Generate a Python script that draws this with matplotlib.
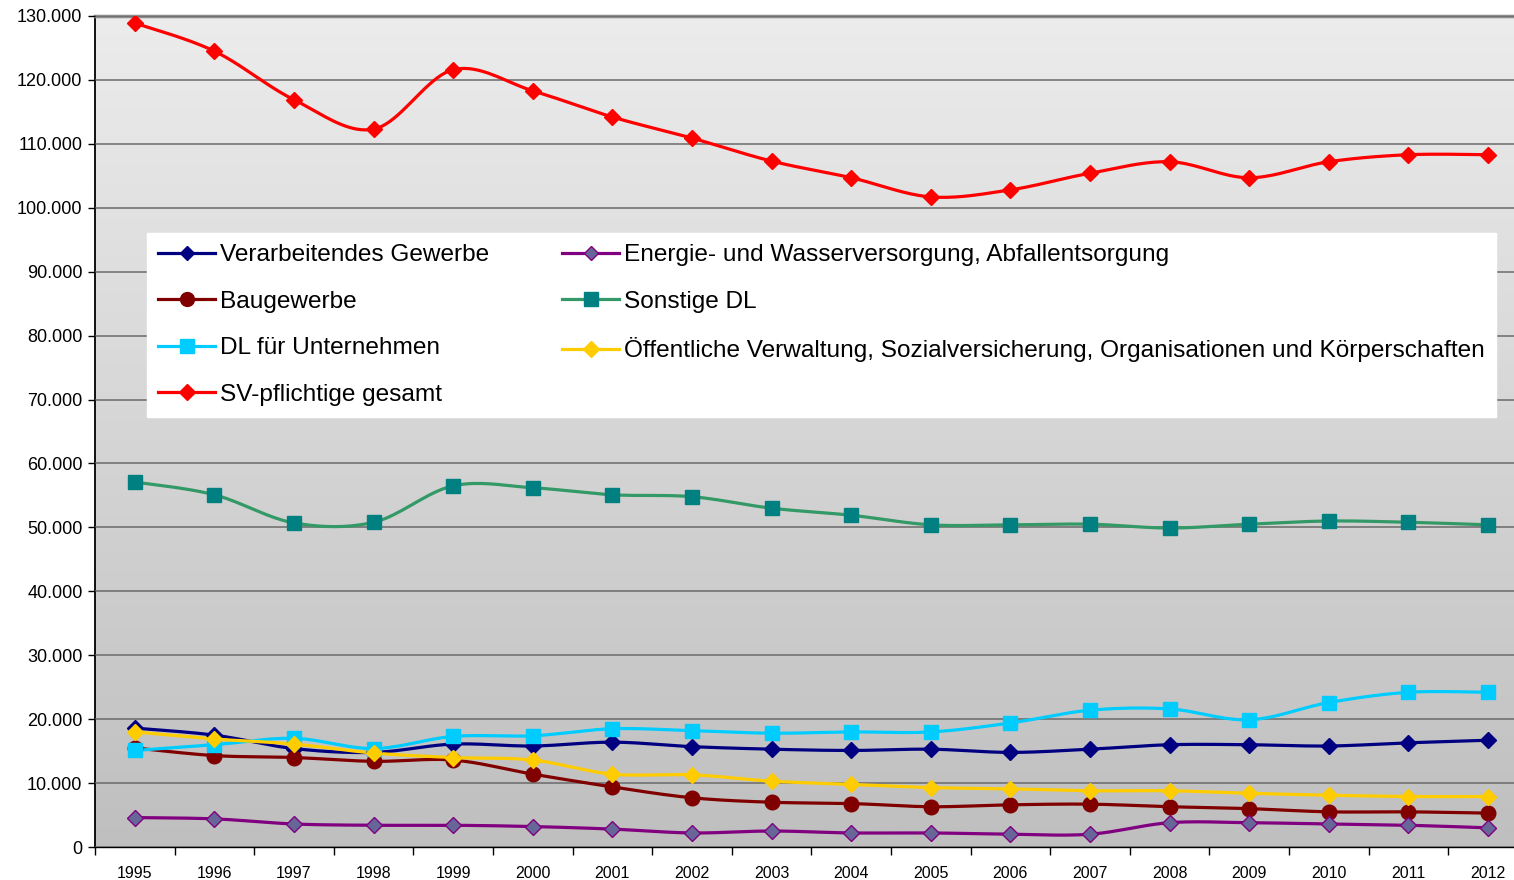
import numpy as np
import matplotlib
matplotlib.use("Agg")
import matplotlib.pyplot as plt
from matplotlib.ticker import FuncFormatter, FixedLocator
from matplotlib.colors import LinearSegmentedColormap

plt.rcParams['font.family'] = ['Liberation Sans', 'DejaVu Sans']

years = [str(y) for y in range(1995, 2013)]

verarbeitendes = [18.6, 17.5, 15.4, 14.8, 16.1, 15.8, 16.4, 15.7, 15.3, 15.1, 15.3, 14.8, 15.3, 16.0, 16.0, 15.8, 16.3, 16.7]
energie = [4.6, 4.4, 3.6, 3.4, 3.4, 3.2, 2.8, 2.2, 2.5, 2.2, 2.2, 2.0, 2.0, 3.8, 3.8, 3.6, 3.4, 3.0]
baugewerbe = [15.5, 14.3, 14.0, 13.4, 13.6, 11.4, 9.4, 7.7, 7.0, 6.8, 6.3, 6.6, 6.7, 6.3, 6.0, 5.5, 5.5, 5.3]
sonstige = [57.1, 55.1, 50.7, 50.8, 56.5, 56.2, 55.1, 54.8, 53.0, 51.9, 50.4, 50.4, 50.5, 49.9, 50.5, 51.0, 50.8, 50.4]
dl_unternehmen = [15.1, 16.0, 17.0, 15.4, 17.3, 17.4, 18.5, 18.2, 17.8, 18.0, 18.0, 19.4, 21.4, 21.6, 19.9, 22.6, 24.2, 24.2]
oeffentliche = [18.0, 16.9, 16.1, 14.7, 14.0, 13.6, 11.4, 11.3, 10.3, 9.8, 9.3, 9.1, 8.8, 8.8, 8.4, 8.1, 7.9, 7.9]
sv_gesamt = [128.9, 124.5, 116.9, 112.3, 121.6, 118.3, 114.2, 110.9, 107.3, 104.7, 101.7, 102.8, 105.4, 107.2, 104.7, 107.2, 108.3, 108.3]

labels = ["Verarbeitendes Gewerbe", "Baugewerbe", "DL für Unternehmen", "SV-pflichtige gesamt",
          "Energie- und Wasserversorgung, Abfallentsorgung", "Sonstige DL",
          "Öffentliche Verwaltung, Sozialversicherung, Organisationen und Körperschaften"]

# (values, line colour, marker, face, edge, markersize)
series = [
    (verarbeitendes, "#000080", "D", "#000080", "#000080", 8),
    (baugewerbe, "#800000", "o", "#800000", "#800000", 10.5),
    (dl_unternehmen, "#00CCFF", "s", "#00CCFF", "#00CCFF", 10),
    (sv_gesamt, "#FF0000", "D", "#FF0000", "#FF0000", 8.5),
    (energie, "#800080", "D", "#666699", "#800080", 8),
    (sonstige, "#339966", "s", "#008080", "#008080", 10),
    (oeffentliche, "#FFCC00", "D", "#FFCC00", "#FFCC00", 8.5),
]


def smooth(x, y, n=20):
    x = np.asarray(x, float)
    y = np.asarray(y, float)
    px = np.concatenate([[x[0]], x, [x[-1]]])
    py = np.concatenate([[y[0]], y, [y[-1]]])
    xs, ys = [], []
    t = np.linspace(0, 1, n, endpoint=False)
    for i in range(1, len(px) - 2):
        p0, p1, p2, p3 = (px[i-1], py[i-1]), (px[i], py[i]), (px[i+1], py[i+1]), (px[i+2], py[i+2])
        c1 = (p1[0] + (p2[0] - p0[0]) / 6, p1[1] + (p2[1] - p0[1]) / 6)
        c2 = (p2[0] - (p3[0] - p1[0]) / 6, p2[1] - (p3[1] - p1[1]) / 6)
        for a in range(2):
            P = [p1[a], c1[a], c2[a], p2[a]]
            v = ((1 - t) ** 3) * P[0] + 3 * ((1 - t) ** 2) * t * P[1] + 3 * (1 - t) * t ** 2 * P[2] + t ** 3 * P[3]
            (xs if a == 0 else ys).append(v)
    xs = np.concatenate(xs + [[x[-1]]])
    ys = np.concatenate(ys + [[y[-1]]])
    return xs, ys


fig = plt.figure(figsize=(15.14, 8.8), dpi=100)
ax = fig.add_axes([95 / 1514, 1 - 847 / 880, 1 - 95 / 1514, (847 - 16) / 880])

# gradient background (light at top, darker at bottom)
grad = np.linspace(0, 1, 256).reshape(-1, 1)
cmap = LinearSegmentedColormap.from_list("bg", ["#ECECEC", "#BFBFBF"])
ax.imshow(grad, extent=[0, 1, 0, 1], origin='upper', transform=ax.transAxes,
          cmap=cmap, aspect="auto", zorder=0)

x = np.arange(len(years))
handles = []
for (vals, lc, mk, mfc, mec, ms) in series:
    yv = np.array(vals) * 1000
    sx, sy = smooth(x, yv)
    ax.plot(sx, sy, color=lc, lw=2.3, zorder=3, solid_capstyle='round')
    ax.plot(x, yv, linestyle='none', marker=mk, markersize=ms,
            markerfacecolor=mfc, markeredgecolor=mec, markeredgewidth=1, zorder=4)
    h, = ax.plot([], [], color=lc, lw=2.3, marker=mk, markersize=ms * 0.95,
                 markerfacecolor=mfc, markeredgecolor=mec)
    handles.append(h)

ax.yaxis.set_major_locator(FixedLocator(np.arange(0, 130001, 10000)))
ax.yaxis.set_major_formatter(FuncFormatter(lambda v, p: f"{int(v):,}".replace(",", ".")))
ax.grid(axis='y', color="#6A6A6A", lw=1.1, zorder=1)
ax.set_axisbelow(False)

ax.set_xticks(x)
ax.set_xticklabels(years, fontsize=11.5)
ax.set_xticks(np.arange(-0.5, 17.6, 1), minor=True)
ax.tick_params(axis='x', which='major', length=0, pad=14)
ax.tick_params(axis='x', which='minor', length=6, color='black', width=1)
ax.tick_params(axis='y', which='major', length=5, width=1, labelsize=13, pad=4)

ax.set_xlim(-0.5, (1514 - 136) / 79.53)
ax.set_ylim(0, 130000)

ax.spines['right'].set_visible(False)
ax.spines['top'].set_color('#8C8C8C')
ax.spines['top'].set_linewidth(2.5)
ax.spines['left'].set_color('black')
ax.spines['left'].set_linewidth(1.3)
ax.spines['bottom'].set_color('black')
ax.spines['bottom'].set_linewidth(1.0)


def fx(px):
    return (px - 95) / (1514 - 95)


def fy(py):
    return (847 - py) / (847 - 16)


leg = ax.legend(handles, labels, ncol=2, loc='upper left',
                bbox_to_anchor=(fx(147), fy(418), fx(1496) - fx(147), fy(233) - fy(418)),
                mode='expand', fontsize=17.6, frameon=True, fancybox=False,
                facecolor='white', edgecolor='white', framealpha=1,
                labelspacing=1.0, handlelength=2.35, handletextpad=0.2,
                borderpad=0.45, borderaxespad=0, columnspacing=1.0)
leg.set_zorder(5)

fig.savefig("out.png", dpi=100)
